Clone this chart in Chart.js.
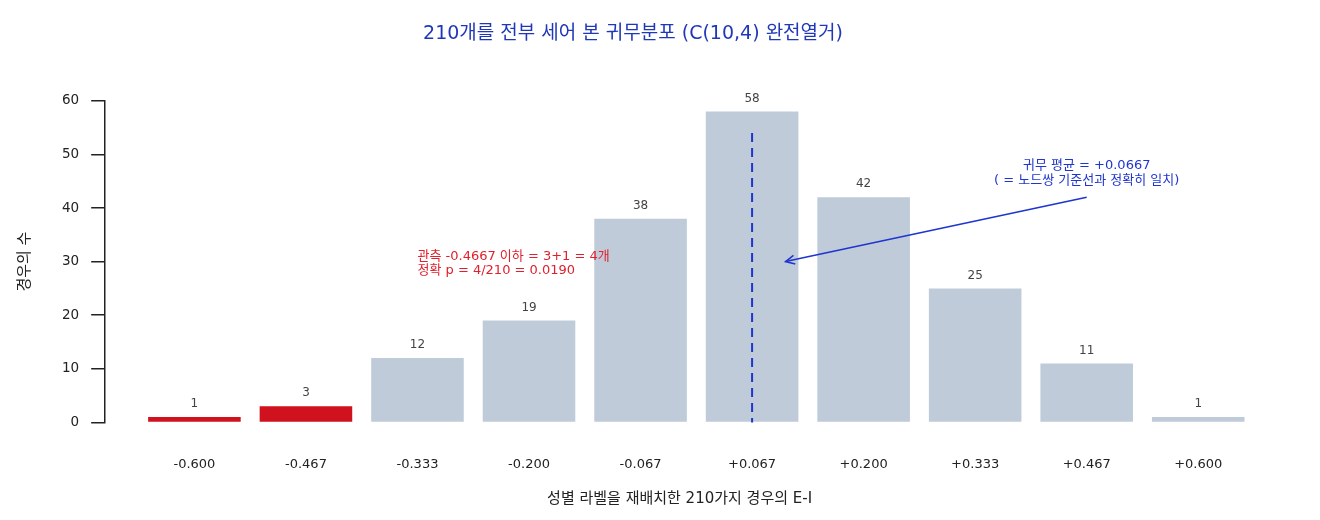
<!DOCTYPE html>
<html>
<head>
<meta charset="utf-8">
<script src="https://cdn.jsdelivr.net/npm/chart.js@4"></script>
<style>
  html, body { margin: 0; padding: 0; background: #fff; }
  #wrap { width: 1320px; height: 520px; }
</style>
</head>
<body>
<div id="wrap"><canvas id="c"></canvas></div>
<script>
// 210 permutations, E-I difference values
const diffLabels = ['-0.600','-0.467','-0.333','-0.200','-0.067','+0.067','+0.200','+0.333','+0.467','+0.600'];
const counts = [1, 3, 12, 19, 38, 58, 42, 25, 11, 1];
const extremeFlags = [true, true, false, false, false, false, false, false, false, false];

const meanIndex = 5;      // +0.067 column
const meanLineTop = 54;
const observedText = ['관측 -0.4667 이하 = 3+1 = 4개', '정확 p = 4/210 = 0.0190'];
const meanText = ['귀무 평균 = +0.0667', '( = 노드쌍 기준선과 정확히 일치)'];

const FONT = "'DejaVu Sans', 'Noto Sans CJK KR', sans-serif";
const RED = '#d0111e';
const GREY = '#bfcbd9';
const BLUE = '#1f35d0';

const points = counts.map((v, i) => ({ x: i, y: v }));

const annot = {
  id: 'annot',
  afterDatasetsDraw(chart) {
    const { ctx, scales: { x, y } } = chart;
    ctx.save();
    // value labels
    ctx.font = '12px ' + FONT;
    ctx.fillStyle = '#444';
    ctx.textAlign = 'center';
    ctx.textBaseline = 'bottom';
    counts.forEach((v, i) => {
      ctx.fillText(String(v), x.getPixelForValue(i), y.getPixelForValue(v) - 7);
    });

    // dashed mean line
    ctx.strokeStyle = BLUE;
    ctx.lineWidth = 2;
    ctx.setLineDash([9, 6]);
    ctx.beginPath();
    ctx.moveTo(x.getPixelForValue(meanIndex), y.getPixelForValue(meanLineTop));
    ctx.lineTo(x.getPixelForValue(meanIndex), y.getPixelForValue(0));
    ctx.stroke();
    ctx.setLineDash([]);

    // arrow
    const x0 = x.getPixelForValue(8), y0 = y.getPixelForValue(42);
    const x1 = x.getPixelForValue(5.3), y1 = y.getPixelForValue(30);
    ctx.lineWidth = 1.5;
    ctx.beginPath();
    ctx.moveTo(x0, y0);
    ctx.lineTo(x1, y1);
    ctx.stroke();
    const ang = Math.atan2(y1 - y0, x1 - x0);
    ctx.beginPath();
    ctx.moveTo(x1 - 10 * Math.cos(ang - 0.45), y1 - 10 * Math.sin(ang - 0.45));
    ctx.lineTo(x1, y1);
    ctx.lineTo(x1 - 10 * Math.cos(ang + 0.45), y1 - 10 * Math.sin(ang + 0.45));
    ctx.stroke();

    // mean text
    ctx.font = '13px ' + FONT;
    ctx.fillStyle = BLUE;
    ctx.textAlign = 'center';
    ctx.textBaseline = 'middle';
    ctx.fillText(meanText[0], x.getPixelForValue(8), y.getPixelForValue(47.9));
    ctx.fillText(meanText[1], x.getPixelForValue(8), y.getPixelForValue(45.1));

    // observed text
    ctx.fillStyle = '#e0202c';
    ctx.textAlign = 'left';
    ctx.fillText(observedText[0], x.getPixelForValue(2), y.getPixelForValue(30.9));
    ctx.fillText(observedText[1], x.getPixelForValue(2), y.getPixelForValue(28.3));
    ctx.restore();
  }
};

new Chart(document.getElementById('c'), {
  type: 'bar',
  data: {
    datasets: [{
      data: points,
      backgroundColor: extremeFlags.map(f => f ? RED : GREY),
      barPercentage: 0.83,
      categoryPercentage: 1
    }]
  },
  options: {
    responsive: true,
    maintainAspectRatio: false,
    animation: false,
    layout: { padding: { left: 12, right: 66, top: 13, bottom: 8 } },
    plugins: {
      legend: { display: false },
      tooltip: { enabled: false },
      title: {
        display: true,
        text: '210개를 전부 세어 본 귀무분포 (C(10,4) 완전열거)',
        color: '#2038b8',
        font: { family: FONT, size: 19, weight: 'normal' },
        padding: { top: 10, bottom: 55 }
      }
    },
    scales: {
      x: {
        type: 'linear',
        offset: false,
        min: -0.8,
        max: 9.5,
        afterBuildTicks(scale) {
          scale.ticks = diffLabels.map((_, i) => ({ value: i }));
        },
        ticks: {
          callback: (v) => diffLabels[v],
          color: '#222',
          font: { family: FONT, size: 13 },
          padding: 26,
          maxRotation: 0,
          autoSkip: false
        },
        grid: { display: false },
        border: { display: false },
        title: {
          display: true,
          text: '성별 라벨을 재배치한 210가지 경우의 E-I',
          color: '#222',
          font: { family: FONT, size: 15 },
          padding: { top: -8 }
        }
      },
      y: {
        min: 0,
        max: 60,
        ticks: {
          stepSize: 10,
          color: '#222',
          font: { family: FONT, size: 13.5 },
          padding: 12
        },
        grid: {
          drawOnChartArea: false,
          drawTicks: true,
          tickLength: 14,
          color: '#222',
          lineWidth: 1.5
        },
        border: { display: true, color: '#222', width: 1.5 },
        title: {
          display: true,
          text: '경우의 수',
          color: '#222',
          font: { family: FONT, size: 15 },
          padding: { bottom: 16 }
        }
      }
    }
  },
  plugins: [annot]
});
</script>
</body>
</html>
